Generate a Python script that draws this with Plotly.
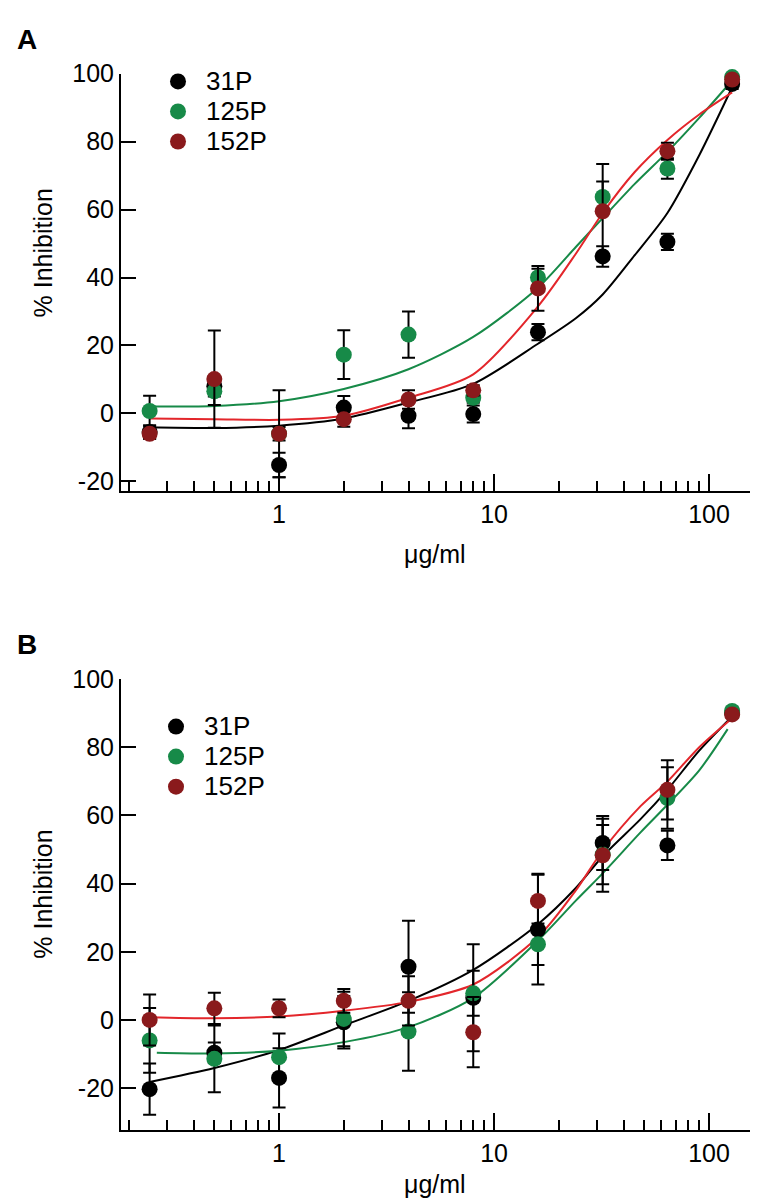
import math
import plotly.graph_objects as go

W, H = 761, 1198

conc = [0.25, 0.5, 1, 2, 4, 8, 16, 32, 64, 128]
tick_vals_x = [1, 10, 100]
tick_text_x = ["1", "10", "100"]
tick_vals_y = [-20, 0, 20, 40, 60, 80, 100]
tick_text_y = ["-20", "0", "20", "40", "60", "80", "100"]
series_names = ["31P", "125P", "152P"]

# Panel A data (mean, error)
A_31P = [-5.5, 8.0, -15.2, 1.7, -0.7, -0.2, 23.9, 46.2, 50.5, 97.0]
A_31P_err = [2.0, 3.0, 3.6, 3.4, 3.7, 2.5, 2.4, 3.0, 2.4, 1.5]
A_125P = [0.7, 6.5, -6.0, 17.3, 23.2, 4.6, 40.0, 63.7, 72.1, 99.0]
A_125P_err = [4.5, 4.0, 2.0, 7.2, 6.8, 1.5, 2.6, 4.6, 3.0, 1.0]
A_152P = [-6.0, 10.1, -6.0, -1.7, 4.1, 6.8, 36.8, 59.5, 77.2, 98.3]
A_152P_err = [1.5, 14.3, 12.8, 2.2, 2.7, 1.5, 6.6, 13.9, 2.5, 1.0]

# Panel A fitted curves
A_fit_x = [0.25, 0.5, 1, 2, 4, 8, 16, 24, 32, 45, 64, 90, 128]
A_fit_31P = [-4.1, -4.3, -3.6, -1.5, 3.2, 8.7, 20.5, 28.0, 35.0, 46.5, 59.0, 76.0, 96.0]
A_fit_125P = [2.0, 2.2, 3.6, 7.2, 13.0, 22.5, 37.0, 49.0, 57.5, 67.5, 77.0, 87.0, 98.0]
A_fit_152P = [-1.5, -1.7, -1.9, -0.7, 4.6, 11.5, 31.5, 47.0, 59.0, 71.0, 80.5, 88.0, 94.5]

# Panel B data (mean, error)
B_31P = [-20.3, -9.6, -17.0, -0.7, 15.6, 6.5, 26.5, 51.9, 51.2, 90.0]
B_31P_err = [7.5, 3.0, 8.7, 7.7, 13.5, 15.7, 16.1, 7.9, 4.3, 1.0]
B_125P = [-6.0, -11.4, -10.9, 0.3, -3.4, 7.8, 22.2, 48.5, 65.1, 90.6]
B_125P_err = [9.5, 9.8, 6.9, 8.0, 11.5, 6.6, 6.1, 8.7, 9.0, 1.0]
B_152P = [0.0, 3.4, 3.4, 5.6, 5.6, -3.6, 34.9, 48.3, 67.5, 89.6]
B_152P_err = [7.5, 4.6, 2.6, 3.5, 7.2, 10.3, 8.0, 10.7, 8.7, 1.0]

# Panel B fitted curves
B_fit_x_31P = [0.25, 0.5, 1, 2, 4, 8, 16, 24, 32, 48, 64, 90, 128]
B_fit_31P = [-18.2, -14.1, -8.8, -1.6, 5.6, 14.7, 28.1, 38.7, 48.0, 58.9, 67.5, 79.0, 89.0]
B_fit_x_152P = [0.25, 0.5, 1, 2, 4, 8, 16, 24, 32, 48, 64, 90, 128]
B_fit_152P = [0.8, 0.5, 1.0, 2.7, 5.3, 10.4, 24.3, 38.0, 49.7, 62.7, 69.9, 80.0, 88.5]
B_fit_x_125P = [0.27, 0.5, 1, 2, 4, 8, 16, 24, 32, 48, 64, 90, 122]
B_fit_125P = [-9.6, -9.8, -9.0, -6.5, -2.1, 6.5, 23.3, 35.0, 43.0, 55.0, 63.1, 73.2, 85.3]

marker_colors = ["#000000", "#178A48", "#8A1A1C"]
line_colors = ["#000000", "#178A48", "#E3262B"]

FONT = "Liberation Sans, Arial, sans-serif"
TICK_SIZE = 25
LEG_TEXT = 26
LEG_ROW = 20.8  # sets row spacing of legend entries

fig = go.Figure()


def add_panel(means, errs, fits, xa, ya, legend):
    for i in range(len(means)):
        fx, fy = fits[i]
        fig.add_trace(go.Scatter(
            x=fx, y=fy, mode="lines",
            line=dict(color=line_colors[i], width=2, shape="spline", smoothing=0.8),
            xaxis=xa, yaxis=ya, showlegend=False, hoverinfo="skip"))
    for i, (m, e) in enumerate(zip(means, errs)):
        fig.add_trace(go.Scatter(
            x=conc, y=m, mode="markers",
            name='<span style="font-size:%dpx">%s</span>' % (LEG_TEXT, series_names[i]),
            marker=dict(color=marker_colors[i], size=16, line=dict(width=0)),
            error_y=dict(type="data", array=e, visible=True, color="black", thickness=2, width=6.5),
            xaxis=xa, yaxis=ya, legend=legend, cliponaxis=False))


add_panel([A_31P, A_125P, A_152P], [A_31P_err, A_125P_err, A_152P_err],
          [(A_fit_x, A_fit_31P), (A_fit_x, A_fit_125P), (A_fit_x, A_fit_152P)], "x", "y", "legend")
add_panel([B_31P, B_125P, B_152P], [B_31P_err, B_125P_err, B_152P_err],
          [(B_fit_x_31P, B_fit_31P), (B_fit_x_125P, B_fit_125P), (B_fit_x_152P, B_fit_152P)],
          "x2", "y2", "legend2")


def px_x(p):
    return p / W


def px_y(p):
    return 1 - p / H


x_dom = [px_x(113), px_x(742)]
x_rng = [math.log10(0.184), math.log10(155)]


def xaxis_style(anchor):
    return dict(
        domain=x_dom, type="log", range=x_rng, anchor=anchor,
        showline=True, linecolor="black", linewidth=2, mirror=False,
        ticks="inside", ticklen=17, tickwidth=2, tickcolor="black",
        tickvals=tick_vals_x, ticktext=tick_text_x,
        minor=dict(ticks="inside", ticklen=10, tickwidth=2, tickcolor="black", dtick="D1", showgrid=False),
        showgrid=False, zeroline=False,
        tickfont=dict(family=FONT, size=TICK_SIZE, color="black"),
    )


def yaxis_style(anchor, dom, rng):
    return dict(
        domain=dom, range=rng, anchor=anchor,
        showline=True, linecolor="black", linewidth=2,
        ticks="inside", ticklen=15, tickwidth=2, tickcolor="black",
        tickvals=tick_vals_y, ticktext=tick_text_y, showgrid=False, zeroline=False,
        tickfont=dict(family=FONT, size=TICK_SIZE, color="black"),
    )


leg_common = dict(xanchor="left", yanchor="top",
                  font=dict(family=FONT, size=LEG_ROW, color="black"), bgcolor="rgba(0,0,0,0)",
                  itemwidth=46, tracegroupgap=0)

fig.update_layout(
    width=W, height=H,
    margin=dict(l=0, r=0, t=0, b=0),
    paper_bgcolor="white", plot_bgcolor="white",
    font=dict(family=FONT, color="black"),
    xaxis=xaxis_style("y"),
    yaxis=yaxis_style("x", [px_y(476), px_y(52.5)], [-22.8, 100]),
    xaxis2=xaxis_style("y2"),
    yaxis2=yaxis_style("x2", [px_y(1125), px_y(667)], [-32.3, 100]),
    legend=dict(x=px_x(142), y=px_y(40), **leg_common),
    legend2=dict(x=px_x(140), y=px_y(695), **leg_common),
    showlegend=True,
)

annos = [
    dict(text="<b>A</b>", x=px_x(7), y=px_y(18), xanchor="left", yanchor="middle", size=28, angle=0),
    dict(text="<b>B</b>", x=px_x(7), y=px_y(632), xanchor="left", yanchor="middle", size=28, angle=0),
    dict(text="μg/ml", x=px_x(427), y=px_y(540), xanchor="center", yanchor="middle", size=TICK_SIZE, angle=0),
    dict(text="μg/ml", x=px_x(427), y=px_y(1180), xanchor="center", yanchor="middle", size=TICK_SIZE, angle=0),
    dict(text="% Inhibition", x=px_x(35), y=px_y(235), xanchor="center", yanchor="middle", size=TICK_SIZE, angle=-90),
    dict(text="% Inhibition", x=px_x(35), y=px_y(886), xanchor="center", yanchor="middle", size=TICK_SIZE, angle=-90),
]
for a in annos:
    fig.add_annotation(text=a["text"], x=a["x"], y=a["y"], xref="paper", yref="paper",
                       xanchor=a["xanchor"], yanchor=a["yanchor"], showarrow=False,
                       textangle=a["angle"],
                       font=dict(family=FONT, size=a["size"], color="black"))

fig.write_html("out.html")
